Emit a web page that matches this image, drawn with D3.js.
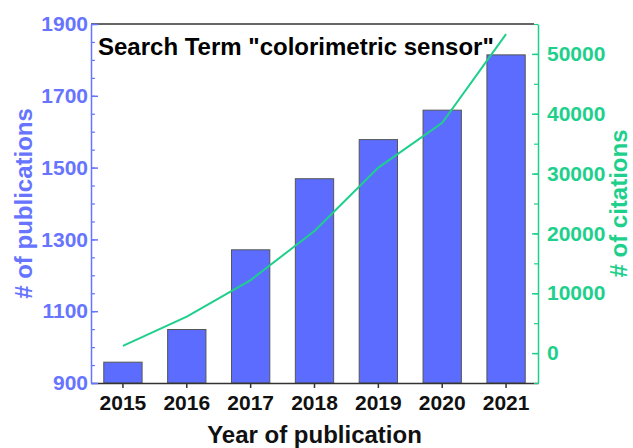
<!DOCTYPE html>
<html>
<head>
<meta charset="utf-8">
<script src="https://cdn.jsdelivr.net/npm/d3@7"></script>
<style>
  html, body { margin: 0; padding: 0; background: #fff; }
  svg { display: block; font-family: "Liberation Sans", Arial, sans-serif; font-weight: bold; }
</style>
</head>
<body>
<svg id="chart" width="633" height="448"></svg>
<script>
const years = ["2015", "2016", "2017", "2018", "2019", "2020", "2021"];
const publications = [958, 1049, 1271, 1469, 1578, 1660, 1814];
const citations = [1200, 6100, 12200, 20400, 31000, 38500, 53300];
const leftTicks = [900, 1100, 1300, 1500, 1700, 1900];
const rightTicks = [0, 10000, 20000, 30000, 40000, 50000];
const titleText = 'Search Term "colorimetric sensor"';

const W = 633, H = 448;
const m = { top: 24, right: 95, bottom: 65, left: 91 };
const iw = W - m.left - m.right, ih = H - m.top - m.bottom;

const blue = "#5b6cff", blueText = "#6674ff", green = "#1ed08c", dark = "#333";

const svg = d3.select("#chart");
const g = svg.append("g").attr("transform", `translate(${m.left},${m.top})`);

const x = d3.scaleBand().domain(years).range([0, iw]).paddingInner(0.4).paddingOuter(0.2);
const xc = d3.scaleBand().domain(years).range([0, iw]).padding(0);
const yL = d3.scaleLinear().domain([900, 1900]).range([ih, 0]);
const yR = d3.scaleLinear().domain([-5000, 55000]).range([ih, 0]);

// bars
g.selectAll("rect.bar").data(years).join("rect")
  .attr("class", "bar")
  .attr("x", d => x(d))
  .attr("width", x.bandwidth())
  .attr("y", (d, i) => yL(publications[i]))
  .attr("height", (d, i) => ih - yL(publications[i]))
  .attr("fill", blue)
  .attr("stroke", "#555")
  .attr("stroke-width", 1);

// line
const line = d3.line()
  .x((d, i) => xc(years[i]) + xc.bandwidth() / 2)
  .y(d => yR(d));
g.append("path").datum(citations)
  .attr("d", line)
  .attr("fill", "none")
  .attr("stroke", green)
  .attr("stroke-width", 2);

// top frame
g.append("line").attr("x1", 0).attr("x2", iw - 4).attr("y1", 0).attr("y2", 0)
  .attr("stroke", dark).attr("stroke-width", 1.5);

// bottom axis
const xAxis = g.append("g").attr("transform", `translate(0,${ih})`)
  .call(d3.axisBottom(xc).tickSizeInner(5).tickSizeOuter(0).tickPadding(7));
xAxis.select(".domain").attr("stroke", dark).attr("stroke-width", 1.5);
xAxis.selectAll(".tick line").attr("stroke", dark).attr("stroke-width", 1.5);
xAxis.selectAll(".tick text").attr("fill", "#111").style("font-size", "21px").style("font-weight", "bold");

// left axis
const yLminor = d3.range(900, 1901, 50);
const lMin = g.append("g").call(d3.axisLeft(yL).tickValues(yLminor).tickSize(-4).tickFormat(""));
lMin.select(".domain").remove();
lMin.selectAll(".tick line").attr("stroke", blueText).attr("stroke-width", 1.2);
const lAxis = g.append("g").call(d3.axisLeft(yL).tickValues(leftTicks).tickSizeInner(-7).tickSizeOuter(0).tickPadding(3).tickFormat(d3.format("d")));
lAxis.select(".domain").attr("stroke", blueText).attr("stroke-width", 1.5);
lAxis.selectAll(".tick line").attr("stroke", blueText).attr("stroke-width", 1.5);
lAxis.selectAll(".tick text").attr("fill", blueText).style("font-size", "21px").style("font-weight", "bold");

// right axis
const yRminor = d3.range(-5000, 55001, 5000);
const rMin = g.append("g").attr("transform", `translate(${iw},0)`)
  .call(d3.axisRight(yR).tickValues(yRminor).tickSize(-4).tickFormat(""));
rMin.select(".domain").remove();
rMin.selectAll(".tick line").attr("stroke", green).attr("stroke-width", 1.2);
const rAxis = g.append("g").attr("transform", `translate(${iw},0)`)
  .call(d3.axisRight(yR).tickValues(rightTicks).tickSizeInner(-6).tickSizeOuter(0).tickPadding(9).tickFormat(d3.format("d")));
rAxis.select(".domain").attr("stroke", green).attr("stroke-width", 1.5);
rAxis.selectAll(".tick line").attr("stroke", green).attr("stroke-width", 1.5);
rAxis.selectAll(".tick text").attr("fill", green).style("font-size", "21px").style("font-weight", "bold");

// chart title inside
g.append("text").attr("x", 7).attr("y", 31)
  .attr("fill", "#000").style("font-size", "24px").text(titleText);

// axis titles
svg.append("text").attr("transform", `translate(32,${m.top + ih / 2}) rotate(-90)`)
  .attr("text-anchor", "middle").attr("fill", blueText).style("font-size", "24px")
  .text("# of publications");
svg.append("text").attr("transform", `translate(627,${m.top + ih / 2}) rotate(-90)`)
  .attr("text-anchor", "middle").attr("fill", green).style("font-size", "24px")
  .text("# of citations");
svg.append("text").attr("x", m.left + iw / 2).attr("y", 443)
  .attr("text-anchor", "middle").attr("fill", "#111").style("font-size", "24px")
  .text("Year of publication");
</script>
</body>
</html>
